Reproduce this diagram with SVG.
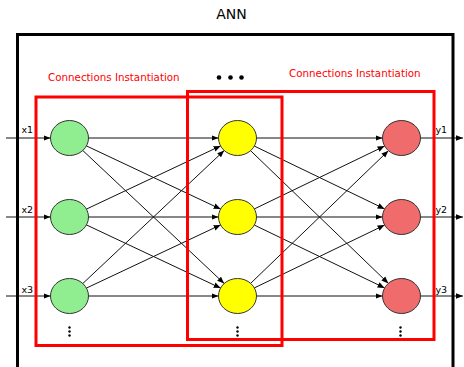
<svg xmlns="http://www.w3.org/2000/svg" width="464" height="367" viewBox="0 0 464 367">
<style>
text{font-family:"DejaVu Sans","Liberation Sans",sans-serif}
.t{font-size:14px;fill:#000}
.lbl{font-size:10.3px;fill:#ff0000}
.io{font-size:9.5px;fill:#000}
.c line{stroke:#111;stroke-width:1;fill:none;marker-end:url(#ah)}
.g{fill:#90ee90;stroke:#333;stroke-width:1}
.y{fill:#ffff00;stroke:#333;stroke-width:1}
.r{fill:#f06b6b;stroke:#333;stroke-width:1}
.box{fill:none;stroke:#ff0000;stroke-width:3}
.dot{fill:#000}
</style>
<defs>
<marker id="ah" viewBox="0 0 10 10" refX="10" refY="5" markerWidth="7" markerHeight="7" markerUnits="userSpaceOnUse" orient="auto">
<path d="M0,1 L10,5 L0,9 z" fill="#000"/>
</marker>
</defs>
<rect width="464" height="367" fill="#fff"/>
<text class="t" x="231.5" y="18.5" text-anchor="middle">ANN</text>
<g id="connectors" class="c">
<line x1="6" y1="138" x2="50.5" y2="138"/>
<line x1="6" y1="217" x2="50.5" y2="217"/>
<line x1="6" y1="296" x2="50.5" y2="296"/>
<line x1="88.5" y1="138" x2="218.5" y2="138"/>
<line x1="86.4" y1="145.9" x2="220.6" y2="209.1"/>
<line x1="82.8" y1="150.5" x2="224.2" y2="283.5"/>
<line x1="86.4" y1="209.1" x2="220.6" y2="145.9"/>
<line x1="88.5" y1="217" x2="218.5" y2="217"/>
<line x1="86.4" y1="224.9" x2="220.6" y2="288.1"/>
<line x1="82.8" y1="283.5" x2="224.2" y2="150.5"/>
<line x1="86.4" y1="288.1" x2="220.6" y2="224.9"/>
<line x1="88.5" y1="296" x2="218.5" y2="296"/>
<line x1="256.5" y1="138" x2="382.5" y2="138"/>
<line x1="254.4" y1="146.1" x2="384.6" y2="208.9"/>
<line x1="250.6" y1="150.7" x2="388.4" y2="283.4"/>
<line x1="254.4" y1="208.9" x2="384.6" y2="146.1"/>
<line x1="256.5" y1="217" x2="382.5" y2="217"/>
<line x1="254.4" y1="225.1" x2="384.6" y2="287.9"/>
<line x1="250.6" y1="283.4" x2="388.4" y2="150.7"/>
<line x1="254.4" y1="287.9" x2="384.6" y2="225.1"/>
<line x1="256.5" y1="296" x2="382.5" y2="296"/>
<line x1="420.5" y1="138" x2="463" y2="138"/>
<line x1="420.5" y1="217" x2="463" y2="217"/>
<line x1="420.5" y1="296" x2="463" y2="296"/>
</g>
<g id="in1"><ellipse class="g" cx="69.5" cy="138" rx="19" ry="17.5"/></g>
<g id="in2"><ellipse class="g" cx="69.5" cy="217" rx="19" ry="17.5"/></g>
<g id="in3"><ellipse class="g" cx="69.5" cy="296" rx="19" ry="17.5"/></g>
<g id="h1"><ellipse class="y" cx="237.5" cy="138" rx="19" ry="17.5"/></g>
<g id="h2"><ellipse class="y" cx="237.5" cy="217" rx="19" ry="17.5"/></g>
<g id="h3"><ellipse class="y" cx="237.5" cy="296" rx="19" ry="17.5"/></g>
<g id="o1"><ellipse class="r" cx="401.5" cy="138" rx="19" ry="17.5"/></g>
<g id="o2"><ellipse class="r" cx="401.5" cy="217" rx="19" ry="17.5"/></g>
<g id="o3"><ellipse class="r" cx="401.5" cy="296" rx="19" ry="17.5"/></g>
<g id="labels">
<text class="io" x="21.5" y="133">x1</text>
<text class="io" x="21.5" y="213">x2</text>
<text class="io" x="21.5" y="293">x3</text>
<text class="io" x="435.5" y="133">y1</text>
<text class="io" x="435.5" y="213">y2</text>
<text class="io" x="435.5" y="293">y3</text>
</g>
<g id="dots">
<circle class="dot" cx="219" cy="77.5" r="2.3"/>
<circle class="dot" cx="230.5" cy="77.5" r="2.3"/>
<circle class="dot" cx="241.5" cy="77.5" r="2.3"/>
<circle class="dot" cx="69.5" cy="327.5" r="1.2"/>
<circle class="dot" cx="69.5" cy="331.5" r="1.2"/>
<circle class="dot" cx="69.5" cy="335.5" r="1.2"/>
<circle class="dot" cx="237.5" cy="327.5" r="1.2"/>
<circle class="dot" cx="237.5" cy="331.5" r="1.2"/>
<circle class="dot" cx="237.5" cy="335.5" r="1.2"/>
<circle class="dot" cx="400.5" cy="327.5" r="1.2"/>
<circle class="dot" cx="400.5" cy="331.5" r="1.2"/>
<circle class="dot" cx="400.5" cy="335.5" r="1.2"/>
</g>
<g id="group1">
<rect class="box" x="36" y="97" width="246" height="248.5"/>
<text class="lbl" x="48" y="81">Connections Instantiation</text>
</g>
<g id="group2">
<rect class="box" x="187.5" y="91.5" width="246.5" height="248"/>
<text class="lbl" x="289" y="77">Connections Instantiation</text>
</g>
<g id="ann">
<rect x="17.5" y="34.5" width="435.5" height="345" fill="none" stroke="#000" stroke-width="3"/>
</g>
</svg>
